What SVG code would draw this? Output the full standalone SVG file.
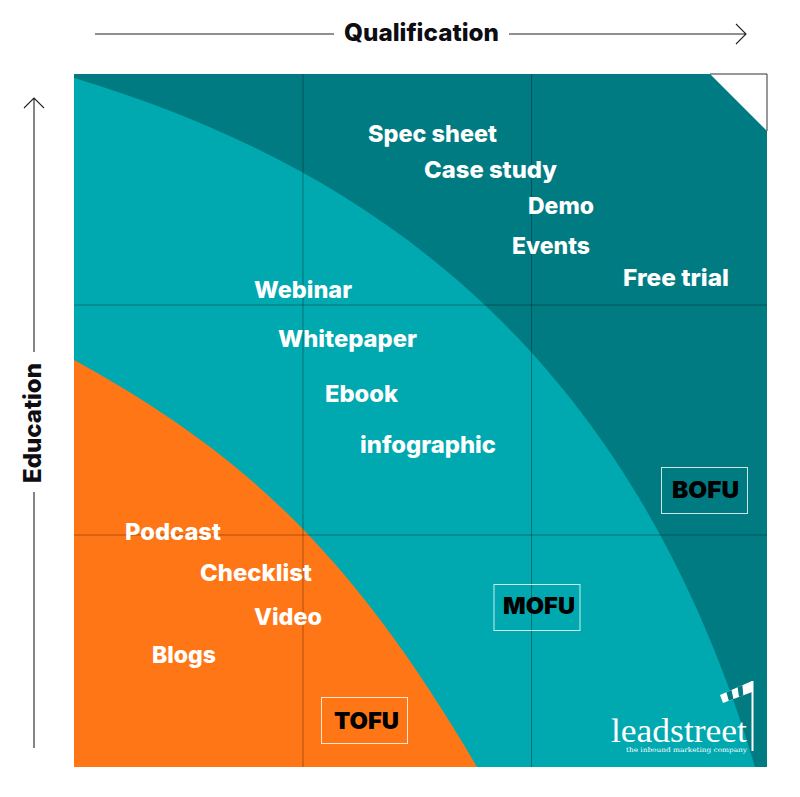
<svg xmlns="http://www.w3.org/2000/svg" width="800" height="797" viewBox="0 0 800 797">
<style>
.l{font-family:"Inter","Liberation Sans",sans-serif;font-weight:800;font-size:23.5px;fill:#fff}
.t{font-family:"Inter","Liberation Sans",sans-serif;font-weight:800;font-size:24px;fill:#0d0d12}
.b{font-family:"Inter","Liberation Sans",sans-serif;font-weight:900;font-size:23px;fill:#000}
.box{fill:none;stroke:#fff;stroke-width:1;opacity:.8}
.ax{fill:none;stroke:#222;stroke-width:1.1}
.g{stroke:#000;stroke-opacity:.32;stroke-width:1;fill:none}
</style>
<rect width="800" height="797" fill="#fff"/>
<g id="quadrant">
<rect x="74" y="74" width="693" height="693" fill="#017b82"/>
<path d="M74 78C374 168 632 354 755 767H74Z" fill="#00a9b0"/>
<path d="M74 360C254 459 357 563 477 767H74Z" fill="#ff7617"/>
<path d="M710 74H767V131Z" fill="#fff"/>
<path d="M710 74H767V131" fill="none" stroke="#333" stroke-width="1"/>
</g>
<g id="grid" class="connectors">
<path class="g" d="M303 74V767M531.500 74V767M74 305H767M74 535H767"/>
</g>
<g id="axes">
<path class="ax" d="M95 34H334M509 34H746M736 24L746 34L736 44"/>
<path class="ax" d="M34 748V492M34 352V98M24 108L34 98L44 108"/>
<text class="t" x="344" y="41" textLength="155" lengthAdjust="spacingAndGlyphs">Qualification</text>
<text class="t" transform="translate(41,483) rotate(-90)" textLength="120" lengthAdjust="spacingAndGlyphs">Education</text>
</g>
<g id="labels">
<text class="l" x="368" y="142" textLength="129" lengthAdjust="spacingAndGlyphs">Spec sheet</text>
<text class="l" x="424" y="178" textLength="133" lengthAdjust="spacingAndGlyphs">Case study</text>
<text class="l" x="528" y="214" textLength="66" lengthAdjust="spacingAndGlyphs">Demo</text>
<text class="l" x="512" y="254" textLength="78" lengthAdjust="spacingAndGlyphs">Events</text>
<text class="l" x="623" y="286" textLength="106" lengthAdjust="spacingAndGlyphs">Free trial</text>
<text class="l" x="254" y="298" textLength="98" lengthAdjust="spacingAndGlyphs">Webinar</text>
<text class="l" x="278" y="347" textLength="139" lengthAdjust="spacingAndGlyphs">Whitepaper</text>
<text class="l" x="325" y="402" textLength="73" lengthAdjust="spacingAndGlyphs">Ebook</text>
<text class="l" x="360" y="453" textLength="136" lengthAdjust="spacingAndGlyphs">infographic</text>
<text class="l" x="125" y="540" textLength="96" lengthAdjust="spacingAndGlyphs">Podcast</text>
<text class="l" x="200" y="581" textLength="112" lengthAdjust="spacingAndGlyphs">Checklist</text>
<text class="l" x="254" y="625" textLength="68" lengthAdjust="spacingAndGlyphs">Video</text>
<text class="l" x="152" y="663" textLength="64" lengthAdjust="spacingAndGlyphs">Blogs</text>
</g>
<g id="bofu"><rect class="box" x="661.500" y="467.500" width="86" height="46"/><text class="b" x="672" y="498" textLength="67" lengthAdjust="spacingAndGlyphs">BOFU</text></g>
<g id="mofu"><rect class="box" x="494" y="584.500" width="86" height="46"/><text class="b" x="503" y="614" textLength="72" lengthAdjust="spacingAndGlyphs">MOFU</text></g>
<g id="tofu"><rect class="box" x="321.500" y="697.500" width="86" height="46"/><text class="b" x="334" y="729" textLength="65" lengthAdjust="spacingAndGlyphs">TOFU</text></g>
<g id="logo">
<path d="M752.500 681V751" stroke="#fff" stroke-width="2" fill="none"/>
<path d="M752 681L720 695L723 703L752 692Z" fill="#fff"/>
<path d="M726.400 692.200L731.500 690L733.400 699L728.800 700.800Z" fill="#017b82"/>
<path d="M737.600 687.300L742.400 685.200L743.300 695.300L739 697Z" fill="#017b82"/>
<text x="611" y="742" font-family="'Liberation Serif',serif" font-size="33" fill="#fff" textLength="136" lengthAdjust="spacingAndGlyphs">leadstreet</text>
<text x="626" y="752" font-family="'DejaVu Serif',serif" font-size="6.500" fill="#fff" textLength="121" lengthAdjust="spacingAndGlyphs">the inbound marketing company</text>
</g>
</svg>
